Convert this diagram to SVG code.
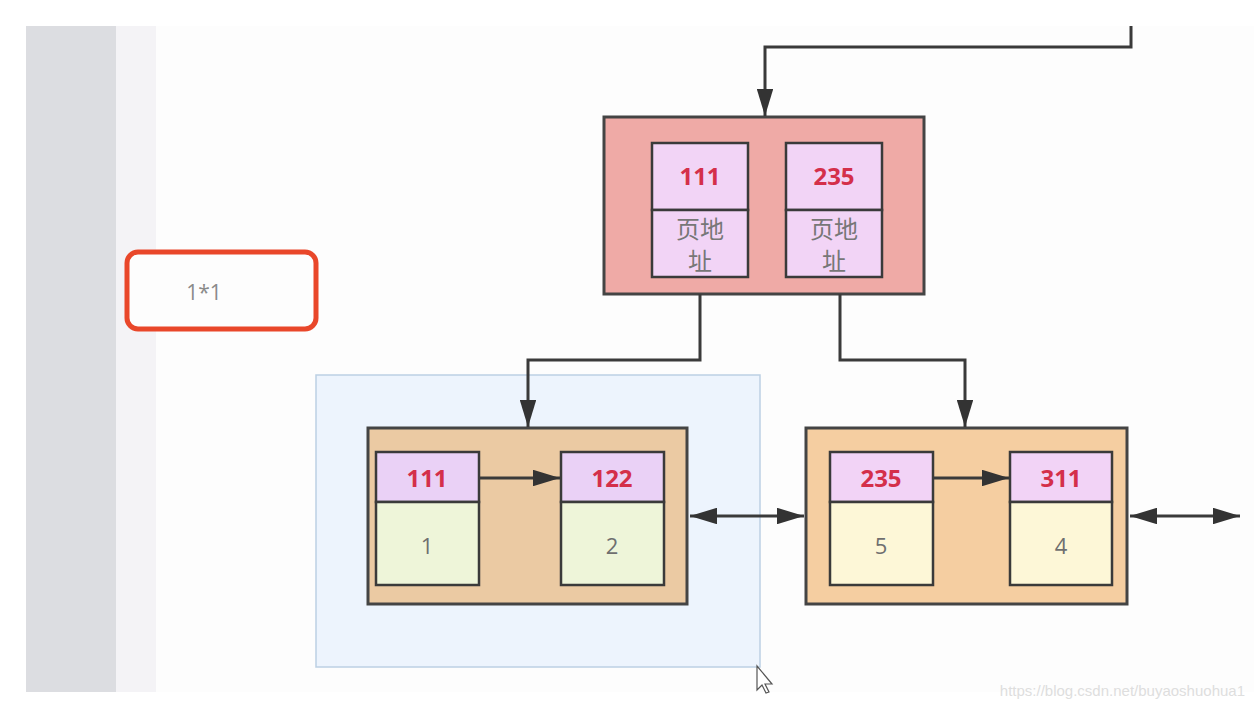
<svg xmlns="http://www.w3.org/2000/svg" width="1254" height="708" viewBox="0 0 1254 708">
<defs>
<marker id="ah" viewBox="0 0 10 10" refX="10" refY="5" markerWidth="9" markerHeight="5.5" orient="auto-start-reverse" markerUnits="strokeWidth" preserveAspectRatio="none">
<path d="M0,0 L10,5 L0,10 z" fill="#333"/>
</marker>
<style>
.outer{stroke:#444;stroke-width:3}
.cell{stroke:#3a3a3a;stroke-width:2.5}
.key{font-family:"Open Sans","DejaVu Sans",sans-serif;font-weight:bold;font-size:24px;fill:#d42f4a;text-anchor:middle}
.val{font-family:"Open Sans","DejaVu Sans",sans-serif;font-size:22px;fill:#6f6f6f;text-anchor:middle}
.cjk{font-family:"Noto Sans CJK SC",sans-serif;font-size:24px;fill:#777;text-anchor:middle}
.wire{fill:none;stroke:#3a3a3a;stroke-width:3}
</style>
</defs>
<rect width="1254" height="708" fill="#ffffff"/>
<rect x="26" y="26" width="1228" height="666" fill="#fdfdfd"/>
<rect x="26" y="26" width="90" height="666" fill="#dcdde1"/>
<rect x="116" y="26" width="40" height="666" fill="#f4f3f6"/>

<g id="selection">
<rect x="316" y="375" width="444" height="292" fill="#edf4fd" stroke="#bcd0e3" stroke-width="1.5"/>
</g>

<g id="label-1x1">
<rect x="127" y="252" width="189" height="77" rx="11" fill="#fdfdfd" stroke="#e9472a" stroke-width="5"/>
<text x="204" y="300" font-family="'Open Sans','DejaVu Sans',sans-serif" font-size="21" fill="#8a8a8a" text-anchor="middle">1*1</text>
</g>

<g id="root">
<rect class="outer" x="604" y="117" width="320" height="177" fill="#efaaa6"/>
<rect class="cell" x="652" y="143" width="96" height="67" fill="#f2d4f6"/>
<rect class="cell" x="652" y="210" width="96" height="67" fill="#f2d4f6"/>
<text class="key" x="700" y="185">111</text>
<text class="cjk" x="700" y="238">页地</text>
<text class="cjk" x="700" y="270">址</text>
<rect class="cell" x="786" y="143" width="96" height="67" fill="#f2d4f6"/>
<rect class="cell" x="786" y="210" width="96" height="67" fill="#f2d4f6"/>
<text class="key" x="834" y="185">235</text>
<text class="cjk" x="834" y="238">页地</text>
<text class="cjk" x="834" y="270">址</text>
</g>

<g id="leaf1">
<rect class="outer" x="368" y="428" width="319" height="176" fill="#ebcaa3"/>
<rect class="cell" x="376" y="452" width="103" height="50" fill="#ead1f6"/>
<rect class="cell" x="376" y="502" width="103" height="83" fill="#eef5d9"/>
<text class="key" x="427" y="487">111</text>
<text class="val" x="427" y="554">1</text>
<rect class="cell" x="561" y="452" width="103" height="50" fill="#ead1f6"/>
<rect class="cell" x="561" y="502" width="103" height="83" fill="#eef5d9"/>
<text class="key" x="612" y="487">122</text>
<text class="val" x="612" y="554">2</text>
</g>

<g id="leaf2">
<rect class="outer" x="806" y="428" width="321" height="176" fill="#f5cea1"/>
<rect class="cell" x="830" y="452" width="103" height="50" fill="#f2d3f6"/>
<rect class="cell" x="830" y="502" width="103" height="83" fill="#fdf7d7"/>
<text class="key" x="881" y="487">235</text>
<text class="val" x="881" y="554">5</text>
<rect class="cell" x="1010" y="452" width="102" height="50" fill="#f2d3f6"/>
<rect class="cell" x="1010" y="502" width="102" height="83" fill="#fdf7d7"/>
<text class="key" x="1061" y="487">311</text>
<text class="val" x="1061" y="554">4</text>
</g>

<g id="connectors">
<path class="wire" d="M1131,26 V47 H765 V116" marker-end="url(#ah)"/>
<path class="wire" d="M700,294 V360 H528 V427" marker-end="url(#ah)"/>
<path class="wire" d="M840,294 V360 H965 V427" marker-end="url(#ah)"/>
<path class="wire" d="M479,478 H560" marker-end="url(#ah)"/>
<path class="wire" d="M933,478 H1009" marker-end="url(#ah)"/>
<path class="wire" d="M690,516 H804" marker-start="url(#ah)" marker-end="url(#ah)"/>
<path class="wire" d="M1130,516 H1240" marker-start="url(#ah)" marker-end="url(#ah)"/>
</g>

<g id="cursor">
<path d="M757,666 L757,690 L762,685 L766,693 L769,692 L765,684 L772,684 Z" fill="#ffffff" stroke="#555" stroke-width="1.2"/>
</g>

<text x="1245" y="696" font-family="'Liberation Sans',Arial,sans-serif" font-size="15" fill="#dedede" text-anchor="end">https://blog.csdn.net/buyaoshuohua1</text>
</svg>
